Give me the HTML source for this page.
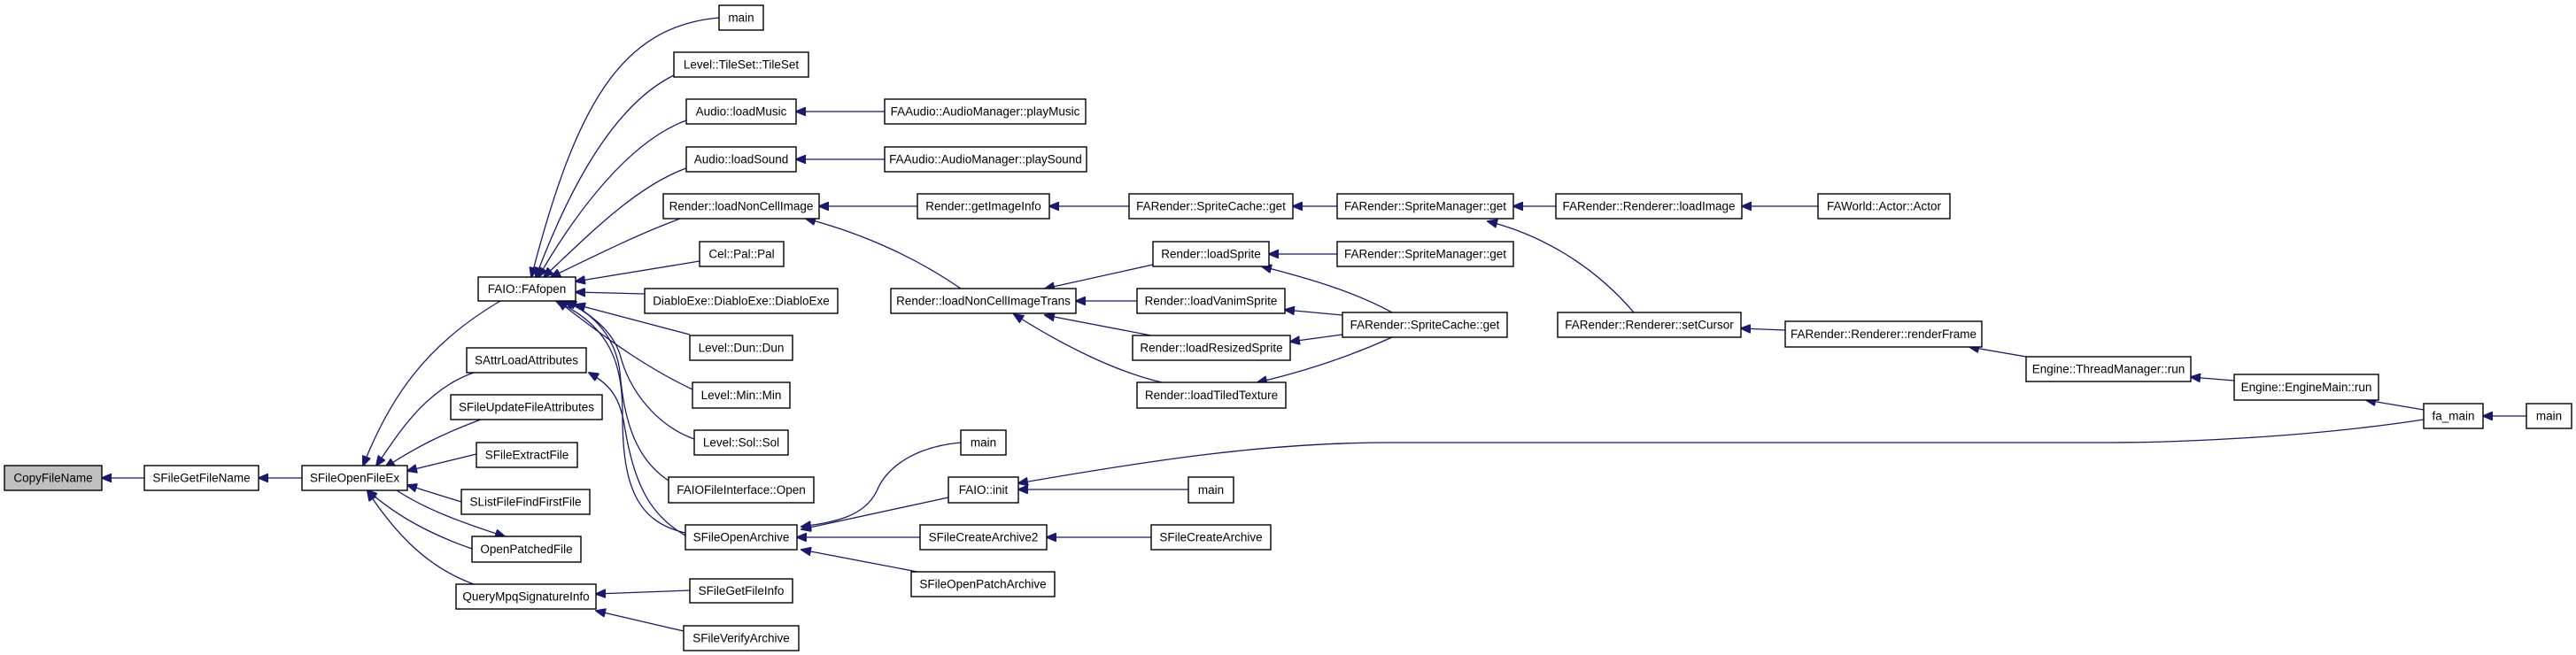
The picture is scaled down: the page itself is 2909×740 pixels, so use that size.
<!DOCTYPE html>
<html><head><meta charset="utf-8"><style>
html,body{margin:0;padding:0;background:#fff;}
svg{display:block;}
text{font-family:"Liberation Sans",Arial,sans-serif;font-size:13.5px;fill:#000;text-anchor:middle;dominant-baseline:central;}
rect{fill:#fff;stroke:#000;stroke-width:1.4;}
path{fill:none;stroke:#191970;stroke-width:1.3;marker-end:url(#ah);}
</style></head><body>
<svg width="2909" height="740" viewBox="0 0 2909 740" xmlns="http://www.w3.org/2000/svg">
<defs><marker id="ah" markerWidth="12" markerHeight="10" refX="11" refY="5" orient="auto" markerUnits="userSpaceOnUse"><path d="M0,0 L12,5 L0,10 Z" style="fill:#191970;stroke:#191970;stroke-width:1;marker-end:none"/></marker></defs>

<!-- edges -->
<path d="M163,540 L115,540"/>
<path d="M341,540 L292,540"/>
<path d="M565,340 C480,390 440,450 410,526"/>
<path d="M535,421 C480,440 450,490 425,526"/>
<path d="M543,474 C500,490 470,505 435,528"/>
<path d="M538,513 L460,532"/>
<path d="M521,567 L460,548"/>
<path d="M448,554 C480,575 520,590 570,606"/>
<path d="M533,620 C490,605 450,585 415,554"/>
<path d="M535,660 C480,640 445,600 415,555"/>
<!-- FAfopen callers -->
<path d="M812,20 C700,30 650,120 600,313"/>
<path d="M761,85 C690,120 640,220 605,313"/>
<path d="M775,136 C710,160 650,240 608,313"/>
<path d="M775,190 C720,210 670,260 614,313"/>
<path d="M768,247 C720,265 680,285 622,313"/>
<path d="M790,295 L650,318"/>
<path d="M728,332 L650,330"/>
<path d="M779,378 L650,344"/>
<path d="M782,440 C740,420 700,395 630,340"/>
<path d="M784,496 C740,480 710,440 700,400 C690,370 660,350 637,340"/>
<path d="M755,543 C720,520 705,480 700,420 C695,380 670,355 640,340"/>
<path d="M774,602 C720,590 703,550 703,470 C703,410 690,370 628,340"/>
<path d="M774,605 C730,580 715,540 705,480 C700,450 690,435 665,421"/>
<path d="M779,667 L673,671"/>
<path d="M772,713 L673,690"/>
<path d="M999,126 L899,126"/>
<path d="M999,180 L899,180"/>
<path d="M1036,233 L925,233"/>
<path d="M1085,326 C1040,295 980,265 910,247"/>
<path d="M1275,233 L1185,233"/>
<path d="M1510,233 L1460,233"/>
<path d="M1757,233 L1709,233"/>
<path d="M2053,233 L1967,233"/>
<path d="M1845,353 C1800,300 1740,265 1680,250"/>
<path d="M2016,373 L1966,371"/>
<path d="M2288,403 L2224,392"/>
<path d="M2523,430 L2474,426"/>
<path d="M2737,463 L2672,452"/>
<path d="M2853,470 L2804,470"/>
<path d="M2737,474 C2600,495 2450,500 2380,500 L1570,500 C1430,500 1300,520 1150,546"/>
<path d="M1302,299 L1180,326"/>
<path d="M1284,340 L1215,340"/>
<path d="M1300,379 L1180,356"/>
<path d="M1312,432 C1260,420 1200,390 1145,355"/>
<path d="M1510,287 L1433,287"/>
<path d="M1572,353 C1530,330 1480,315 1425,301"/>
<path d="M1516,356 L1451,350"/>
<path d="M1516,378 L1457,386"/>
<path d="M1572,381 C1530,400 1480,418 1420,432"/>
<path d="M1085,500 C1030,505 1000,530 990,555 C975,585 940,590 905,595"/>
<path d="M1071,562 L905,598"/>
<path d="M1039,607 L900,607"/>
<path d="M1036,646 L905,621"/>
<path d="M1342,553 L1150,553"/>
<path d="M1300,607 L1182,607"/>

<!-- nodes -->
<rect x="5" y="526" width="110" height="28" style="fill:#bfbfbf"/><text x="60" y="540">CopyFileName</text>
<rect x="163" y="526" width="129" height="28"/><text x="227.5" y="540">SFileGetFileName</text>
<rect x="341" y="526" width="119" height="28"/><text x="400.5" y="540">SFileOpenFileEx</text>
<rect x="540" y="313" width="110" height="27"/><text x="595" y="326.5">FAIO::FAfopen</text>
<rect x="812" y="6" width="50" height="28"/><text x="837" y="20">main</text>
<rect x="761" y="59" width="152" height="28"/><text x="837" y="73">Level::TileSet::TileSet</text>
<rect x="775" y="112" width="124" height="28"/><text x="837" y="126">Audio::loadMusic</text>
<rect x="775" y="166" width="124" height="28"/><text x="837" y="180">Audio::loadSound</text>
<rect x="749" y="219" width="176" height="28"/><text x="837" y="233">Render::loadNonCellImage</text>
<rect x="790" y="273" width="95" height="28"/><text x="837.5" y="287">Cel::Pal::Pal</text>
<rect x="728" y="326" width="218" height="28"/><text x="837" y="340">DiabloExe::DiabloExe::DiabloExe</text>
<rect x="779" y="379" width="116" height="28"/><text x="837" y="393">Level::Dun::Dun</text>
<rect x="782" y="432" width="110" height="29"/><text x="837" y="446.5">Level::Min::Min</text>
<rect x="784" y="486" width="106" height="28"/><text x="837" y="500">Level::Sol::Sol</text>
<rect x="755" y="539" width="164" height="29"/><text x="837" y="553.5">FAIOFileInterface::Open</text>
<rect x="774" y="593" width="126" height="28"/><text x="837" y="607">SFileOpenArchive</text>
<rect x="779" y="654" width="116" height="27"/><text x="837" y="667.5">SFileGetFileInfo</text>
<rect x="772" y="707" width="130" height="28"/><text x="837" y="721">SFileVerifyArchive</text>
<rect x="527" y="393" width="135" height="28"/><text x="594.5" y="407">SAttrLoadAttributes</text>
<rect x="509" y="446" width="171" height="28"/><text x="594.5" y="460">SFileUpdateFileAttributes</text>
<rect x="538" y="500" width="114" height="28"/><text x="595" y="514">SFileExtractFile</text>
<rect x="521" y="553" width="145" height="28"/><text x="593.5" y="567">SListFileFindFirstFile</text>
<rect x="533" y="606" width="123" height="29"/><text x="594.5" y="620.5">OpenPatchedFile</text>
<rect x="515" y="660" width="158" height="28"/><text x="594" y="674">QueryMpqSignatureInfo</text>
<rect x="999" y="112" width="227" height="28"/><text x="1112.5" y="126">FAAudio::AudioManager::playMusic</text>
<rect x="999" y="166" width="228" height="28"/><text x="1113" y="180">FAAudio::AudioManager::playSound</text>
<rect x="1036" y="219" width="149" height="28"/><text x="1110.5" y="233">Render::getImageInfo</text>
<rect x="1275" y="219" width="185" height="28"/><text x="1367.5" y="233">FARender::SpriteCache::get</text>
<rect x="1510" y="219" width="199" height="28"/><text x="1609.5" y="233">FARender::SpriteManager::get</text>
<rect x="1757" y="219" width="210" height="28"/><text x="1862" y="233">FARender::Renderer::loadImage</text>
<rect x="1302" y="273" width="131" height="28"/><text x="1367.5" y="287">Render::loadSprite</text>
<rect x="1510" y="273" width="199" height="28"/><text x="1609.5" y="287">FARender::SpriteManager::get</text>
<rect x="1006" y="326" width="209" height="28"/><text x="1110.5" y="340">Render::loadNonCellImageTrans</text>
<rect x="1284" y="326" width="167" height="28"/><text x="1367.5" y="340">Render::loadVanimSprite</text>
<rect x="1516" y="353" width="186" height="28"/><text x="1609" y="367">FARender::SpriteCache::get</text>
<rect x="1759" y="353" width="207" height="28"/><text x="1862.5" y="367">FARender::Renderer::setCursor</text>
<rect x="1279" y="379" width="178" height="28"/><text x="1368" y="393">Render::loadResizedSprite</text>
<rect x="1284" y="432" width="168" height="29"/><text x="1368" y="446.5">Render::loadTiledTexture</text>
<rect x="1085" y="486" width="51" height="28"/><text x="1110.5" y="500">main</text>
<rect x="1071" y="539" width="79" height="29"/><text x="1110.5" y="553.5">FAIO::init</text>
<rect x="1342" y="539" width="51" height="29"/><text x="1367.5" y="553.5">main</text>
<rect x="1039" y="593" width="143" height="28"/><text x="1110.5" y="607">SFileCreateArchive2</text>
<rect x="1300" y="593" width="135" height="28"/><text x="1367.5" y="607">SFileCreateArchive</text>
<rect x="1029" y="646" width="162" height="28"/><text x="1110" y="660">SFileOpenPatchArchive</text>
<rect x="2053" y="219" width="149" height="28"/><text x="2127.5" y="233">FAWorld::Actor::Actor</text>
<rect x="2016" y="363" width="222" height="29"/><text x="2127" y="377.5">FARender::Renderer::renderFrame</text>
<rect x="2288" y="403" width="186" height="28"/><text x="2381" y="417">Engine::ThreadManager::run</text>
<rect x="2523" y="423" width="163" height="29"/><text x="2604.5" y="437.5">Engine::EngineMain::run</text>
<rect x="2737" y="456" width="67" height="28"/><text x="2770.5" y="470">fa_main</text>
<rect x="2853" y="456" width="51" height="28"/><text x="2878.5" y="470">main</text>
</svg>
</body></html>
